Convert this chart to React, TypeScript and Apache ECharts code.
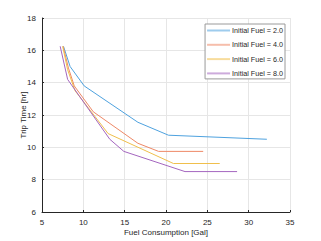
import React, { useEffect, useRef } from "react";
import * as echarts from "echarts";

const seriesNames = ["Initial Fuel = 2.0", "Initial Fuel = 4.0", "Initial Fuel = 6.0", "Initial Fuel = 8.0"];
const fuel2: [number, number][] = [[7.6, 16.25], [8.4, 15.0], [10.1, 13.8], [16.6, 11.55], [20.3, 10.75], [32.2, 10.5]];
const fuel4: [number, number][] = [[7.55, 16.25], [8.2, 14.9], [8.9, 13.8], [11.2, 12.2], [16.6, 10.25], [19.1, 9.75], [24.5, 9.75]];
const fuel6: [number, number][] = [[7.5, 16.25], [8.1, 14.8], [9.0, 13.5], [13.0, 10.85], [20.9, 9.0], [26.5, 9.0]];
const fuel8: [number, number][] = [[7.2, 16.25], [8.1, 14.2], [13.2, 10.5], [14.9, 9.75], [22.3, 8.5], [28.6, 8.5]];
const colors = ["#4ea2df", "#ee8866", "#f0bf4c", "#a466bf"];

export default function App() {
  const ref = useRef<HTMLDivElement>(null);
  useEffect(() => {
    if (!ref.current) return;
    const chart = echarts.init(ref.current, undefined, { renderer: "svg" });
    const font = "Liberation Sans, Arial, sans-serif";
    const data = [fuel2, fuel4, fuel6, fuel8];
    chart.setOption({
      animation: false,
      textStyle: { fontFamily: font },
      grid: { left: 42, right: 31, top: 18, bottom: 27 },
      legend: {
        orient: "vertical",
        right: 36,
        top: 24,
        padding: [3, 2, 2, 2],
        itemGap: 7.3,
        itemWidth: 23,
        itemHeight: 2,
        icon: "rect",
        itemStyle: { opacity: 0.55 },
        borderColor: "#9a9a9a",
        borderWidth: 1,
        backgroundColor: "#fff",
        textStyle: { fontSize: 7.2, color: "#262626", fontFamily: font, padding: [0, 0, 0, -3] },
        data: seriesNames,
      },
      xAxis: {
        type: "value",
        min: 5,
        max: 35,
        interval: 5,
        name: "Fuel Consumption [Gal]",
        nameLocation: "middle",
        nameGap: 16,
        nameMoveOverlap: false,
        nameTextStyle: { fontSize: 8, color: "#262626", fontFamily: font },
        axisLine: { show: true, onZero: false, lineStyle: { color: "#262626", width: 1 } },
        axisTick: { show: true, inside: true, length: 2, lineStyle: { color: "#262626" } },
        axisLabel: { fontSize: 8, color: "#262626", margin: 6 },
        splitLine: { show: true, lineStyle: { color: "#e6e6e6", width: 1 } },
      },
      yAxis: {
        type: "value",
        min: 6,
        max: 18,
        interval: 2,
        name: "Trip Time [hr]",
        nameLocation: "middle",
        nameGap: 15,
        nameMoveOverlap: false,
        nameTextStyle: { fontSize: 8, color: "#262626", fontFamily: font },
        axisLine: { show: true, onZero: false, lineStyle: { color: "#262626", width: 1 } },
        axisTick: { show: true, inside: true, length: 2, lineStyle: { color: "#262626" } },
        axisLabel: { fontSize: 8, color: "#262626", margin: 6 },
        splitLine: { show: true, lineStyle: { color: "#e6e6e6", width: 1 } },
      },
      series: data.map((d, i) => ({
        name: seriesNames[i],
        type: "line",
        data: d,
        symbol: "none",
        color: colors[i],
        lineStyle: { width: 1, color: colors[i] },
      })),
    });
    return () => chart.dispose();
  }, []);
  return <div ref={ref} style={{ width: 321, height: 241, position: "absolute", left: 0, top: 0 }} />;
}
